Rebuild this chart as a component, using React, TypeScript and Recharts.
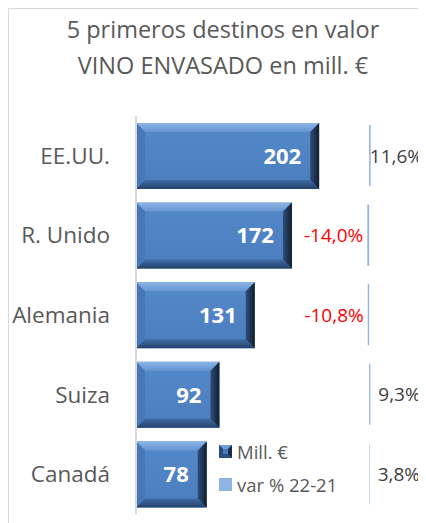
import React from 'react';
import { BarChart, Bar, XAxis, YAxis, LabelList } from 'recharts';

const categories = ['EE.UU.', 'R. Unido', 'Alemania', 'Suiza', 'Canadá'];
const millEuros = [202, 172, 131, 92, 78];
const varPct = [11.6, -14.0, -10.8, 9.3, 3.8];
const seriesNames = ['Mill. €', 'var % 22-21'];
const titleLines = ['5 primeros destinos en valor', 'VINO ENVASADO en mill. €'];

const data = categories.map((c, i) => ({ name: c, mill: millEuros[i], pct: varPct[i] }));

const FONT = '"Open Sans", "Noto Sans", sans-serif';
const CHART_W = 417;

const BevelBar = (props: any) => {
  const { x, y, width, height } = props;
  if (width == null || height == null) return null;
  const w = Math.abs(width);
  const left = width < 0 ? x + width : x;
  const b = Math.min(9, w / 2, height / 2);
  const r = left + w;
  const bt = y + height;
  return (
    <g>
      <defs>
        <linearGradient id="bvFace" x1="0" y1="0" x2="0" y2="1">
          <stop offset="0%" stopColor="#5489c9" />
          <stop offset="100%" stopColor="#4a7dbd" />
        </linearGradient>
        <linearGradient id="bvTop" x1="0" y1="0" x2="0" y2="1">
          <stop offset="0%" stopColor="#8db4e4" />
          <stop offset="100%" stopColor="#6495d3" />
        </linearGradient>
        <linearGradient id="bvBot" x1="0" y1="0" x2="0" y2="1">
          <stop offset="0%" stopColor="#3f6ca5" />
          <stop offset="100%" stopColor="#24426a" />
        </linearGradient>
        <linearGradient id="bvRight" x1="0" y1="0" x2="1" y2="0">
          <stop offset="0%" stopColor="#2e4f7a" />
          <stop offset="100%" stopColor="#121d2c" />
        </linearGradient>
      </defs>
      <rect x={left} y={y} width={w} height={height} fill="url(#bvFace)" />
      <polygon points={`${left},${y} ${r},${y} ${r - b},${y + b} ${left + b},${y + b}`} fill="url(#bvTop)" />
      <polygon points={`${left},${bt} ${r},${bt} ${r - b},${bt - b} ${left + b},${bt - b}`} fill="url(#bvBot)" />
      <polygon points={`${left},${y} ${left + b},${y + b} ${left + b},${bt - b} ${left},${bt}`} fill="#4677b6" />
      <polygon points={`${r},${y} ${r - b},${y + b} ${r - b},${bt - b} ${r},${bt}`} fill="url(#bvRight)" />
    </g>
  );
};

const charWidth = (ch: string) => (ch === ',' ? 0.27 : ch === '%' ? 0.84 : ch === '-' ? 0.32 : 0.57);

const PctLabel = (props: any) => {
  const { x, y, width, height, value } = props;
  const v = Number(value);
  const left = Math.min(x, x + width);
  const right = Math.max(x, x + width);
  const neg = v < 0;
  const fs = 19;
  const txt = v.toFixed(1).replace('.', ',') + '%';
  const est = txt.split('').reduce((s, c) => s + charWidth(c), 0) * fs;
  const maxX = CHART_W - 3;
  let tx = neg ? left - 4 : right + 8;
  let anchor: 'start' | 'end' = neg ? 'end' : 'start';
  if (!neg && tx + est > maxX) {
    tx = maxX;
    anchor = 'end';
  }
  return (
    <text
      x={tx}
      y={y + height / 2}
      textAnchor={anchor}
      dominantBaseline="central"
      fill={neg ? '#ff0000' : '#404040'}
      fontSize={fs}
      fontFamily={FONT}
    >
      {txt}
    </text>
  );
};

const LegendBox = () => (
  <div
    style={{
      position: 'absolute',
      left: 210,
      top: 426,
      fontFamily: FONT,
      fontSize: 18.5,
      color: '#595959',
      lineHeight: '33px',
    }}
  >
    <div style={{ display: 'flex', alignItems: 'center' }}>
      <svg width={13} height={13} style={{ marginRight: 5 }}>
        <rect x={0} y={0} width={13} height={13} fill="#4a7dbd" />
        <polygon points="0,0 13,0 9,4 4,4" fill="#6f9bd6" />
        <polygon points="0,13 13,13 9,9 4,9" fill="#2c4f7e" />
        <polygon points="13,0 9,4 9,9 13,13" fill="#1a2c44" />
        <polygon points="0,0 4,4 4,9 0,13" fill="#2a4a75" />
      </svg>
      <span>{seriesNames[0]}</span>
    </div>
    <div style={{ display: 'flex', alignItems: 'center' }}>
      <svg width={13} height={13} style={{ marginRight: 5 }}>
        <rect x={0} y={0} width={13} height={13} fill="#8eb4e3" />
      </svg>
      <span>{seriesNames[1]}</span>
    </div>
  </div>
);

export default function App() {
  return (
    <div
      style={{
        position: 'relative',
        width: 418,
        height: 515,
        borderLeft: '1px solid #d9d9d9',
        borderTop: '1px solid #d9d9d9',
        boxSizing: 'border-box',
        background: '#fff',
      }}
    >
      <div
        style={{
          position: 'absolute',
          left: 0,
          top: 0,
          width: 428,
          textAlign: 'center',
          fontFamily: FONT,
          fontSize: 23.5,
          color: '#595959',
          lineHeight: '36px',
          paddingTop: 2,
        }}
      >
        <div>{titleLines[0]}</div>
        <div>{titleLines[1]}</div>
      </div>
      <BarChart
        width={CHART_W}
        height={514}
        data={data}
        layout="vertical"
        margin={{ top: 107, right: 18, bottom: 9, left: 0 }}
        barCategoryGap="8.5%"
      >
        <XAxis xAxisId="mill" type="number" domain={[0, 300]} hide />
        <XAxis xAxisId="pct" type="number" domain={[-1800, 300]} hide />
        <YAxis
          yAxisId="cat"
          type="category"
          dataKey="name"
          width={127}
          axisLine={{ stroke: '#d9d9d9', strokeWidth: 2 }}
          tickLine={false}
          tickSize={0}
          tickMargin={26}
          tick={{ fill: '#595959', fontSize: 22.5, fontFamily: FONT }}
        />
        <YAxis yAxisId="cat2" type="category" dataKey="name" width={127} hide />
        <Bar
          xAxisId="pct"
          yAxisId="cat2"
          dataKey="pct"
          name={seriesNames[1]}
          fill="#8eb4e3"
          barSize={61}
          isAnimationActive={false}
        >
          <LabelList dataKey="pct" content={<PctLabel />} />
        </Bar>
        <Bar
          xAxisId="mill"
          yAxisId="cat"
          dataKey="mill"
          name={seriesNames[0]}
          barSize={66}
          shape={<BevelBar />}
          isAnimationActive={false}
        >
          <LabelList
            dataKey="mill"
            position="insideRight"
            offset={18}
            fill="#ffffff"
            fontSize={22}
            fontWeight="bold"
            fontFamily={FONT}
          />
        </Bar>
      </BarChart>
      <LegendBox />
    </div>
  );
}
